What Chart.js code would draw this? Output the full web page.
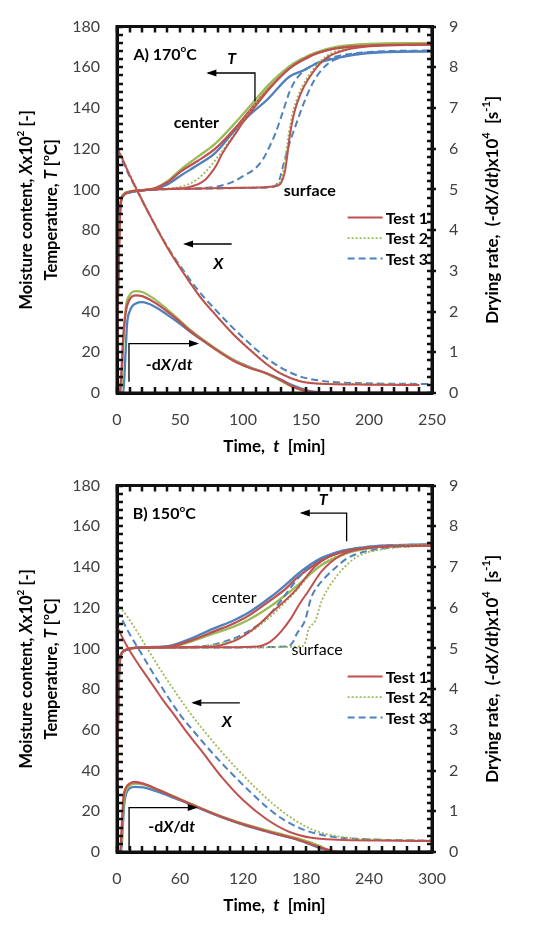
<!DOCTYPE html>
<html>
<head>
<meta charset="utf-8">
<script src="https://cdn.jsdelivr.net/npm/chart.js@4.4.0/dist/chart.umd.min.js"></script>
<style>
    html, body { margin: 0; padding: 0; background: #fff; }
    canvas { display: block; }
</style>
</head>
<body>
<canvas id="chartA" width="533" height="459"></canvas>
<canvas id="chartB" width="533" height="468"></canvas>
<script>

// ---------- axes (tick labels) ----------
var yTicks = [0, 20, 40, 60, 80, 100, 120, 140, 160, 180];
var y2Ticks = [0, 1, 2, 3, 4, 5, 6, 7, 8, 9];
var A_xTicks = [0, 50, 100, 150, 200, 250];
var B_xTicks = [0, 60, 120, 180, 240, 300];

// ---------- A) 170 C : [time min, value] ----------
var A_Tc1 = [[0,18],[1,55],[2,82],[3,93],[5,97],[10,98.8],[20,99.6],[30,100.5],[40,103.5],[51,109],[64,114],[78,120],[95,131],[107,140],[119,148.6],[137,159.5],[148,163.7],[159,167],[174,169.4],[201,170.7],[250,171.2]];
var A_Tc2 = [[0,20],[1,58],[2,84],[3,94],[5,97.5],[10,99],[20,99.7],[30,100.6],[40,104],[51,110],[64,116],[78,122.5],[95,133.5],[107,142],[119,150.5],[137,160.5],[148,164.5],[159,167.5],[174,170],[201,171.5],[250,172]];
var A_Tc3 = [[0,25],[1,62],[2,86],[3,94],[5,97],[10,98.5],[20,99.5],[30,100.3],[40,102.5],[51,107],[64,112],[78,118],[92,128],[105,136.5],[119,144],[137,155.5],[148,158.5],[159,162],[174,164.5],[200,167],[250,167.8]];
var A_Tm1 = [[0,18],[1,55],[2,82],[3,93],[5,97],[10,98.8],[20,99.6],[30,100],[45,100.4],[55,100.9],[64.5,102.6],[70,104.8],[74,107.5],[79,112],[83,117],[88,122],[93.6,127],[100,133],[110,141],[119,148],[137,159.5],[159,167],[201,170.7],[250,171.2]];
var A_Tm2 = [[0,20],[1,58],[2,84],[3,94],[5,97.5],[10,99],[20,99.7],[30,100.1],[40,100.5],[50,101.3],[60,103.5],[70,108.5],[80,116],[90,124.5],[100,133.5],[110,142],[119,149.5],[137,160.5],[159,167.5],[201,171.5],[250,172]];
var A_Tm3 = [[0,25],[1,62],[2,86],[3,94],[5,97],[10,98.5],[20,99.5],[30,100],[50,100.4],[70,100.8],[80,101.5],[91,103.5],[100,106.5],[110,110.5],[116,115],[121,121],[126,128],[131,137],[137,148],[142,154],[150,159],[160,162.5],[175,165.5],[200,167.5],[250,168.3]];
var A_Ts1 = [[0,18],[1,55],[2,82],[3,93],[5,97],[10,98.8],[20,99.6],[30,100],[60,100.4],[100,100.8],[120,101.2],[127,101.8],[130,103],[133,108],[135,116],[137.3,127],[140,136],[143,142.5],[148,150],[156,158],[166,164.5],[182,168.6],[201,170.3],[230,171],[250,171.3]];
var A_Ts2 = [[0,20],[1,58],[2,84],[3,94],[5,97.5],[10,99],[20,99.7],[30,100.1],[60,100.5],[100,100.9],[119,101.3],[126,102],[129,103.5],[132,109],[134,117],[136.5,128],[139,136.5],[142,143],[147,150.5],[155,158.5],[165,165],[181,169.2],[200,171],[230,171.6],[250,172]];
var A_Ts3 = [[0,25],[1,62],[2,86],[3,94],[5,97],[10,98.5],[20,99.5],[30,100],[60,100.3],[100,100.7],[120,101],[126,102],[129,105],[132,112],[136,121],[141,130],[148,142],[156,153],[166,161],[180,165.4],[200,167.3],[250,168]];
var A_X1 = [[0,120.5],[5,114],[10,107],[15.6,100],[25,88.5],[38.5,73],[50,61.5],[65,48],[78,38.5],[92,29],[104,22],[119,14],[130,9.5],[145,5.8],[160,4.6],[200,4.1],[240,3.9]];
var A_X2 = [[0,121],[5,114.5],[10,107.5],[15.6,100.5],[25,89],[38.5,73.5],[50,62],[65,48.3],[78,38.7],[92,29.3],[104,22.3],[119,14.2],[130,9.6],[145,5.9],[160,4.8],[200,4.4],[240,4.2]];
var A_X3 = [[0,119],[5,113],[10,106.5],[15.6,99.8],[25,88.5],[38.5,73.5],[50,62.5],[65,50],[78,41],[92,32],[104,25],[119,17],[130,12.5],[145,8.2],[160,6.2],[180,5.1],[250,4.4]];
var A_R1 = [[0,0],[2,0],[3.5,0.5],[5,1.4],[7,2.0],[10,2.3],[15,2.4],[20,2.38],[30,2.22],[40,2.0],[50,1.75],[57,1.55],[70,1.25],[92,0.8],[105,0.62],[119,0.48],[130,0.32],[140,0.15],[150,0.05],[160,0.01],[240,0]];
var A_R2 = [[0,0],[3,0],[5,1.2],[7,2.1],[10,2.4],[15,2.5],[20,2.48],[30,2.3],[40,2.05],[50,1.78],[57,1.58],[70,1.27],[92,0.82],[105,0.63],[119,0.47],[130,0.3],[140,0.14],[150,0.04],[160,0],[200,0]];
var A_R3 = [[0,0],[5,0],[6.5,0.8],[8,1.7],[10,2.0],[15,2.2],[20,2.23],[30,2.12],[40,1.92],[50,1.7],[57,1.53],[70,1.25],[92,0.82],[105,0.64],[119,0.48],[130,0.33],[140,0.18],[150,0.07],[160,0.02],[180,0],[250,0]];

// ---------- B) 150 C ----------
var B_Tc1 = [[0,30],[1,65],[2,88],[3,95],[5,98],[10,99.5],[15,100.2],[25,100.5],[35,100.6],[50,100.9],[71,104],[93,108.5],[110,112],[125,116],[147,124],[160,129],[172,135],[185,140],[195,143.5],[208,146.5],[220,148],[252,150],[300,150.7]];
var B_Tc2 = [[0,30],[1,65],[2,88],[3,95],[5,98],[10,99.5],[15,100.2],[25,100.4],[35,100.5],[50,100.6],[71,103.5],[93,107.5],[110,110.5],[125,114],[147,121],[160,126],[172,131],[185,137],[195,141],[208,144.5],[220,147],[252,150],[300,151]];
var B_Tc3 = [[0,30],[1,65],[2,88],[3,95],[5,98],[10,99.5],[15,100.2],[25,100.5],[35,100.7],[50,101.2],[71,105],[93,110],[110,113.5],[125,117.5],[147,125.5],[160,131],[172,136.5],[185,141.5],[195,144.5],[208,147],[220,148.5],[252,150.5],[300,151.2]];
var B_Tm1 = [[0,30],[1,65],[2,88],[3,95],[5,98],[10,99.5],[15,100.2],[35,100.5],[93,101],[105,102.5],[115,104.5],[128,108.8],[140,114],[147,117.5],[160,123.5],[170,128.5],[180,135],[189,140.5],[200,144.5],[220,148],[252,150],[300,150.5]];
var B_Tm2 = [[0,30],[1,65],[2,88],[3,95],[5,98],[10,99.5],[15,100.2],[35,100.4],[80,101],[100,102.5],[120,106],[140,113],[157,121],[170,128],[185,137],[200,143],[220,147],[252,150],[300,151]];
var B_Tm3 = [[0,30],[1,65],[2,88],[3,95],[5,98],[10,99.5],[15,100.2],[35,100.5],[80,101],[100,103],[120,107],[140,114],[157,124],[170,133],[185,141],[200,145.5],[220,148.5],[252,150.5],[300,151]];
var B_Ts1 = [[0,30],[1,65],[2,88],[3,95],[5,98],[10,99.5],[15,100.2],[35,100.5],[100,100.6],[134,101],[145,103],[150,105],[157,108.8],[166,115],[174,122],[182,128],[195,138],[214,146],[240,149.5],[260,150.2],[300,150.5]];
var B_Ts2 = [[0,30],[1,65],[2,88],[3,95],[5,98],[10,99.5],[15,100.2],[35,100.3],[100,100.4],[176,101],[180,104],[182,108.8],[189,113.7],[195,123.4],[208,134.7],[227,144.5],[250,148.5],[280,150],[300,150.5]];
var B_Ts3 = [[0,30],[1,65],[2,88],[3,95],[5,98],[10,99.5],[15,100.2],[35,100.4],[100,100.5],[163,101],[168,103.5],[171,107],[179,113.7],[185,125],[191,130.5],[198,134.7],[210,140.5],[220,144.5],[245,148.5],[270,150],[300,150.5]];
var B_X1 = [[0,111],[5,105.5],[10.8,100],[20,92.5],[28,86.5],[36,80.5],[44,74.5],[55,67],[64.8,60],[80,50],[101,36],[120,25.5],[142.5,16.1],[165,9.7],[185,7],[210,6],[250,5.6],[300,5.4]];
var B_X2 = [[0,122],[10,115.5],[20,107.5],[30,99],[44,87.5],[57,77.5],[70,68],[80.6,61],[100,49],[115,40.5],[130,32.5],[150,23],[168,16.1],[180,12.5],[193,9.7],[220,7],[250,6.1],[300,5.7]];
var B_X3 = [[0,118.5],[5,114],[10,109],[15,104.5],[22,98.5],[30,91.5],[37.8,85],[48.7,76],[60,67.5],[72.7,59.5],[85,52],[100,43.5],[117,34.5],[130,28],[145,21],[158,16.1],[175,11.5],[190,9],[210,7.2],[240,6.2],[300,5.6]];
var B_R1 = [[0,0],[3,0],[4.5,0.6],[6,1.3],[8,1.55],[12,1.68],[17,1.72],[25,1.68],[40,1.52],[60,1.29],[77,1.1],[100,0.86],[125,0.64],[150,0.46],[173,0.3],[185,0.19],[195,0.1],[205,0.03],[215,0],[300,0]];
var B_R2 = [[0,0],[3.5,0],[5,0.6],[6.5,1.25],[8.5,1.5],[12,1.63],[17,1.68],[25,1.66],[40,1.52],[60,1.3],[77,1.11],[100,0.87],[125,0.66],[150,0.48],[173,0.33],[185,0.23],[195,0.13],[201,0.04],[210,0],[300,0]];
var B_R3 = [[0,0],[4,0],[5.5,0.6],[7,1.2],[9,1.45],[12,1.56],[17,1.6],[25,1.59],[40,1.47],[60,1.27],[77,1.09],[100,0.85],[125,0.63],[150,0.45],[173,0.29],[185,0.18],[195,0.08],[205,0.02],[215,0],[300,0]];

var testNames = ['Test 1', 'Test 2', 'Test 3'];
var testColor = ['#c0504d', '#9bbb59', '#4f81bd'];
var testDash = [[], [2, 2], [7, 4]];
var testWidth = [2, 1.8, 2];

// labels and arrows placed in data units (left axis)
var A_notes = [
    { s: 'A) 170^o^C', t: 13, v: 166.2, align: 'left', w: 'bold' },
    { s: '*T*', t: 91, v: 164, align: 'center', w: 'bold' },
    { s: 'center', t: 63, v: 132.7, align: 'center', w: 'bold' },
    { s: 'surface', t: 153, v: 99.3, align: 'center', w: 'bold' },
    { s: '*X*', t: 80.4, v: 63.5, align: 'center', w: 'bold' },
    { s: '-d*X*/d*t*', t: 41.4, v: 13.7, align: 'center', w: 'bold' }
];
var A_arrows = [
    [[109.5, 143.3], [109.5, 157.2], [72.5, 157.2]],
    [[91, 73.2], [54, 73.2]],
    [[9.5, 5.5], [9.5, 24.3], [63.5, 24.3]]
];
var B_notes = [
    { s: 'B) 150^o^C', t: 15, v: 165.9, align: 'left', w: 'bold' },
    { s: '*T*', t: 196.5, v: 173, align: 'center', w: 'bold' },
    { s: 'center', t: 111.6, v: 125, align: 'center', w: 'normal' },
    { s: 'surface', t: 190.5, v: 99.5, align: 'center', w: 'normal' },
    { s: '*X*', t: 104.5, v: 64, align: 'center', w: 'bold' },
    { s: '-d*X*/d*t*', t: 52, v: 12.2, align: 'center', w: 'bold' }
];
var B_arrows = [
    [[218.7, 152.7], [218.7, 166.5], [176, 166.5]],
    [[117, 73.3], [72.7, 73.3]],
    [[11.5, 0.8], [11.5, 21.8], [75, 21.8]]
];

var FONT = 'Lato, "Open Sans", sans-serif';

// *x* -> italic, ^x^ -> superscript
function parseRich(s) {
    return s.split(/(\*[^*]+\*|\^[^^]+\^)/).filter(Boolean).map(function (p) {
        if (p[0] === '*') return { t: p.slice(1, -1), it: true };
        if (p[0] === '^') return { t: p.slice(1, -1), sup: true };
        return { t: p };
    });
}

function drawRich(ctx, s, x, y, size, weight, align, rot) {
    var parts = parseRich(s);
    var fontOf = function (p) {
        return (p.it ? 'italic ' : '') + weight + ' ' + (p.sup ? Math.round(size * 0.62) : size) + 'px ' + FONT;
    };
    var w = 0;
    parts.forEach(function (p) { ctx.font = fontOf(p); p.w = ctx.measureText(p.t).width; w += p.w; });
    ctx.save();
    ctx.translate(x, y);
    if (rot) ctx.rotate(rot);
    var cx = align === 'left' ? 0 : (align === 'right' ? -w : -w / 2);
    ctx.textBaseline = 'middle';
    ctx.textAlign = 'left';
    ctx.fillStyle = '#000';
    parts.forEach(function (p) {
        ctx.font = fontOf(p);
        ctx.fillText(p.t, cx, p.sup ? -size * 0.36 : 0);
        cx += p.w;
    });
    ctx.restore();
    return w;
}

// everything that is not a data line: frame, tick marks, notes, arrows, legend, titles
var decoPlugin = {
    id: 'deco',
    afterDraw: function (chart, args, o) {
        var ctx = chart.ctx;
        var x = chart.scales.x, y = chart.scales.y, y2 = chart.scales.y2;
        var L = x.left, R = x.right, T = y.top, B = y.bottom;
        ctx.save();
        ctx.setLineDash([]);

        // frame (stroked path) and inner tick marks
        ctx.strokeStyle = '#111';
        ctx.lineWidth = 3;
        ctx.beginPath();
        ctx.moveTo(L, T); ctx.lineTo(R, T); ctx.lineTo(R, B); ctx.lineTo(L, B); ctx.closePath();
        ctx.stroke();

        ctx.lineWidth = 2.5;
        ctx.beginPath();
        var t, v, px, py;
        for (t = x.min; t <= x.max + 1e-6; t += o.xMinor) {
            px = Math.round(x.getPixelForValue(t));
            ctx.moveTo(px, B); ctx.lineTo(px, B - 6);
            ctx.moveTo(px, T); ctx.lineTo(px, T + 6);
        }
        for (v = y.min; v <= y.max + 1e-6; v += 4) {
            py = Math.round(y.getPixelForValue(v));
            ctx.moveTo(L, py); ctx.lineTo(L + 6, py);
            ctx.moveTo(R, py); ctx.lineTo(R - 5, py);
        }
        y2Ticks.forEach(function (r) {
            var q = Math.round(y2.getPixelForValue(r));
            ctx.moveTo(R, q); ctx.lineTo(R + 4, q);
        });
        ctx.stroke();

        // arrows
        ctx.fillStyle = '#000';
        ctx.strokeStyle = '#000';
        ctx.lineWidth = 1.3;
        o.arrows.forEach(function (pts) {
            var p = pts.map(function (q) { return [x.getPixelForValue(q[0]), y.getPixelForValue(q[1])]; });
            ctx.beginPath();
            ctx.moveTo(p[0][0], p[0][1]);
            for (var i = 1; i < p.length; i++) ctx.lineTo(p[i][0], p[i][1]);
            ctx.stroke();
            var e = p[p.length - 1], s = p[p.length - 2];
            var ang = Math.atan2(e[1] - s[1], e[0] - s[0]);
            ctx.save();
            ctx.translate(e[0], e[1]); ctx.rotate(ang);
            ctx.beginPath();
            ctx.moveTo(2, 0); ctx.lineTo(-8, -3.5); ctx.lineTo(-8, 3.5); ctx.closePath();
            ctx.fill();
            ctx.restore();
        });

        o.notes.forEach(function (n) {
            drawRich(ctx, n.s, x.getPixelForValue(n.t), y.getPixelForValue(n.v), 16, n.w, n.align, 0);
        });

        // legend inside the plot
        var items = chart.data.datasets.filter(function (d) { return d.label; });
        ctx.font = 'bold 16px ' + FONT;
        var tw = Math.max.apply(null, items.map(function (d) { return ctx.measureText(d.label).width; }));
        var tx = R - 4 - tw;
        items.forEach(function (d, i) {
            var ly = T + 191 + i * 20.5;
            ctx.beginPath();
            ctx.strokeStyle = d.borderColor;
            ctx.lineWidth = d.borderWidth;
            ctx.setLineDash(d.borderDash);
            ctx.moveTo(tx - 38, ly); ctx.lineTo(tx - 3, ly);
            ctx.stroke();
            ctx.setLineDash([]);
            ctx.fillStyle = '#000';
            ctx.font = 'bold 16px ' + FONT;
            ctx.textBaseline = 'middle';
            ctx.textAlign = 'left';
            ctx.fillText(d.label, tx, ly + 1);
        });

        // axis titles
        var cy = (T + B) / 2;
        drawRich(ctx, 'Time,  *t*  [min]', (L + R) / 2, B + 54, 17, 'bold', 'center', 0);
        drawRich(ctx, 'Moisture content, *X*x10^2^ [-]', 27, cy, 16.5, 'bold', 'center', -Math.PI / 2);
        drawRich(ctx, 'Temperature, *T* [^o^C]', 52, cy, 16.5, 'bold', 'center', -Math.PI / 2);
        drawRich(ctx, 'Drying rate,  (-d*X*/d*t*)x10^4^  [s^-1^]', 493, cy, 17, 'bold', 'center', -Math.PI / 2);
        ctx.restore();
    }
};

function line(pts, test, axis, solid, label) {
    return {
        label: label || '',
        data: pts.map(function (p) { return { x: p[0], y: p[1] }; }),
        yAxisID: axis,
        borderColor: testColor[test],
        borderDash: solid ? [] : testDash[test],
        borderWidth: solid ? 2.3 : testWidth[test],
        pointRadius: 0,
        fill: false,
        cubicInterpolationMode: 'monotone'
    };
}

function tickAxis(ticks, extra) {
    var ax = {
        type: 'linear',
        min: ticks[0],
        max: ticks[ticks.length - 1],
        afterBuildTicks: function (s) { s.ticks = ticks.map(function (v) { return { value: v }; }); },
        ticks: { padding: 17, color: '#404040', font: { family: FONT, size: 16 }, autoSkip: false, maxRotation: 0 },
        grid: { display: false, drawTicks: false },
        border: { display: true, color: '#000', width: 3 }
    };
    return Object.assign(ax, extra);
}

function makeChart(id, xTicks, xMinor, sets, notes, arrows) {
    var cv = document.getElementById(id);
    var xH = cv.height - 25 - 368;
    return new Chart(cv, {
        type: 'line',
        data: { datasets: sets },
        options: {
            responsive: false,
            animation: false,
            devicePixelRatio: 1,
            layout: { padding: { top: 23, left: 0, right: 0, bottom: 0 } },
            plugins: {
                legend: { display: false },
                tooltip: { enabled: false },
                deco: { xMinor: xMinor, notes: notes, arrows: arrows }
            },
            scales: {
                x: tickAxis(xTicks, { afterFit: function (s) { s.height = xH; } }),
                y: tickAxis(yTicks, { position: 'left', afterFit: function (s) { s.width = 117; } }),
                y2: tickAxis(y2Ticks, { position: 'right', afterFit: function (s) { s.width = 101; } })
            }
        },
        plugins: [decoPlugin]
    });
}

function panelSets(T, X, R) {
    var sets = [];
    for (var i = 0; i < 3; i++) {
        sets.push(line(T[1][i], i, 'y', false));
        sets.push(line(T[2][i], i, 'y', false));
    }
    for (var j = 0; j < 3; j++) sets.push(line(T[0][j], j, 'y', true));
    for (var k = 0; k < 3; k++) sets.push(line(R[k], k, 'y2', true));
    for (var m = 0; m < 3; m++) sets.push(line(X[m], m, 'y', false, testNames[m]));
    return sets;
}

makeChart('chartA', A_xTicks, 10,
    panelSets([[A_Tc1, A_Tc2, A_Tc3], [A_Tm1, A_Tm2, A_Tm3], [A_Ts1, A_Ts2, A_Ts3]],
        [A_X1, A_X2, A_X3], [A_R1, A_R2, A_R3]),
    A_notes, A_arrows);

makeChart('chartB', B_xTicks, 12,
    panelSets([[B_Tc1, B_Tc2, B_Tc3], [B_Tm1, B_Tm2, B_Tm3], [B_Ts1, B_Ts2, B_Ts3]],
        [B_X1, B_X2, B_X3], [B_R1, B_R2, B_R3]),
    B_notes, B_arrows);

</script>
</body>
</html>
